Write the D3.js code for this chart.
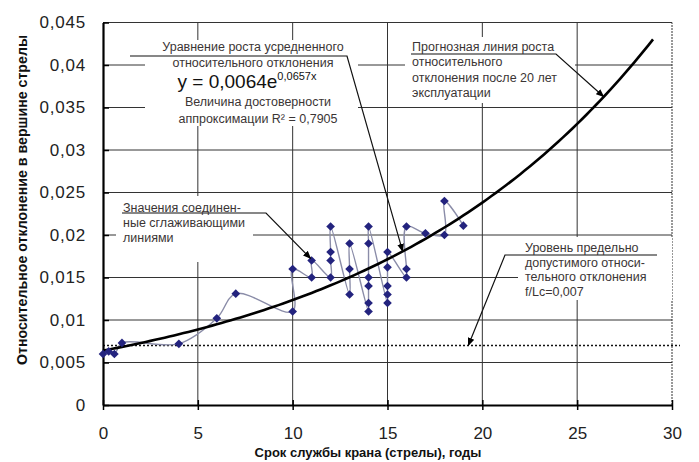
<!DOCTYPE html>
<html>
<head>
<meta charset="utf-8">
<script src="https://cdn.jsdelivr.net/npm/d3@7"></script>
<style>
  html, body { margin: 0; padding: 0; background: #fff; }
  svg { display: block; }
  text { font-family: "Liberation Sans", Arial, sans-serif; }
</style>
</head>
<body>
<div id="chart"></div>
<script>
// ---- data ----
const xTicks = [0, 5, 10, 15, 20, 25, 30];
const yTicks = [0, 0.005, 0.01, 0.015, 0.02, 0.025, 0.03, 0.035, 0.04, 0.045];
const serviceYears = [0, 0.3, 0.6, 1, 4, 6, 7, 10, 10, 11, 11, 12, 12, 12, 12, 13, 13, 13,
  14, 14, 14, 14, 14, 14, 15, 15, 15, 15, 15, 16, 16, 16, 17, 18, 18, 19];
const deviation = [0.006, 0.0063, 0.006, 0.0073, 0.0072, 0.0102, 0.0131, 0.011, 0.016, 0.015, 0.017,
  0.015, 0.017, 0.018, 0.021, 0.013, 0.016, 0.019,
  0.011, 0.012, 0.014, 0.015, 0.019, 0.021,
  0.012, 0.013, 0.014, 0.0162, 0.018,
  0.015, 0.016, 0.021, 0.0202, 0.020, 0.024, 0.0211];
const trendA = 0.0064, trendB = 0.0657, trendEnd = 29.05;
const limitLevel = 0.007;

const xLabel = "Срок службы крана (стрелы), годы";
const yLabel = "Относительное отклонение в вершине стрелы";

// ---- layout ----
const W = 699, H = 462;
const m = { left: 103, right: 27, top: 22.5, bottom: 57 };
const svg = d3.select("#chart").append("svg").attr("width", W).attr("height", H);

const x = d3.scaleLinear().domain([0, 30]).range([m.left, W - m.right]);
const y = d3.scaleLinear().domain([0, 0.045]).range([H - m.bottom, m.top]);
const fmt = v => d3.format("~g")(v).replace(".", ",");

// grid
const grid = svg.append("g");
grid.selectAll(".hg").data(yTicks.slice(1)).join("line")
  .attr("x1", x(0)).attr("x2", x(30)).attr("y1", d => y(d)).attr("y2", d => y(d))
  .attr("stroke", "#333").attr("stroke-width", 1);
grid.selectAll(".vg").data(xTicks.slice(1)).join("line")
  .attr("y1", y(0)).attr("y2", y(0.045)).attr("x1", d => x(d)).attr("x2", d => x(d))
  .attr("stroke", "#333").attr("stroke-width", 1)
  .attr("stroke-dasharray", d => d === 30 ? "2,1" : null);

// limit level dotted line
svg.append("line")
  .attr("x1", x(0)).attr("x2", x(30) + 8)
  .attr("y1", y(limitLevel)).attr("y2", y(limitLevel))
  .attr("stroke", "#111").attr("stroke-width", 1.4).attr("stroke-dasharray", "2,2");

// annotation boxes (white, covering grid)
const boxes = [
  [145, 40, 213, 86],
  [405, 37, 170, 66],
  [116, 196, 137, 66],
  [518, 237, 154, 63]
];
svg.selectAll(".box").data(boxes).join("rect")
  .attr("x", d => d[0]).attr("y", d => d[1]).attr("width", d => d[2]).attr("height", d => d[3])
  .attr("fill", "#fff");

// axes
const xAxis = svg.append("g").attr("transform", `translate(0,${y(0)})`)
  .call(d3.axisBottom(x).tickValues(xTicks).tickFormat(fmt).tickSizeInner(5).tickSizeOuter(0).tickPadding(17));
xAxis.select(".domain").attr("stroke", "#000").attr("stroke-width", 2);
xAxis.selectAll(".tick line").attr("y1", -5).attr("stroke", "#000").attr("stroke-width", 1.5);
xAxis.selectAll("text").attr("font-size", 17).attr("fill", "#222").attr("font-family", "Liberation Sans, Arial");

const yAxis = svg.append("g").attr("transform", `translate(${x(0)},0)`)
  .call(d3.axisLeft(y).tickValues(yTicks).tickFormat(fmt).tickSizeInner(6).tickSizeOuter(0).tickPadding(11));
yAxis.select(".domain").attr("stroke", "#000").attr("stroke-width", 2.2);
yAxis.selectAll(".tick line").attr("x2", 6).attr("stroke", "#000").attr("stroke-width", 1.5);
yAxis.selectAll("text").attr("font-size", 17).attr("fill", "#222")
  .attr("letter-spacing", 0.8).attr("font-family", "Liberation Sans, Arial");

// axis titles
svg.append("text").attr("x", 368).attr("y", 457).attr("text-anchor", "middle")
  .attr("font-size", 13).attr("font-weight", "bold").attr("fill", "#111").text(xLabel);
svg.append("text").attr("transform", `translate(27,${200}) rotate(-90)`).attr("text-anchor", "middle")
  .attr("font-size", 14.2).attr("font-weight", "bold").attr("fill", "#111").text(yLabel);

// data line (smoothed)
const pts = serviceYears.map((v, i) => [v, deviation[i]]);
svg.append("path").datum(pts)
  .attr("d", d3.line().x(d => x(d[0])).y(d => y(d[1])).curve(d3.curveCatmullRom.alpha(0.5)))
  .attr("fill", "none").attr("stroke", "#8a8ca8").attr("stroke-width", 1.4);

// trend curve
const trend = d3.range(0, trendEnd + 0.001, 0.25).map(t => [t, trendA * Math.exp(trendB * t)]);
svg.append("path").datum(trend)
  .attr("d", d3.line().x(d => x(d[0])).y(d => y(d[1])))
  .attr("fill", "none").attr("stroke", "#000").attr("stroke-width", 2.6);

// markers
svg.selectAll(".pt").data(pts).join("path")
  .attr("transform", d => `translate(${x(d[0])},${y(d[1])})`)
  .attr("d", d3.symbol(d3.symbolDiamond2, 48))
  .attr("fill", "#23237e");

// annotation leaders with arrows
svg.append("defs").append("marker").attr("id", "arr")
  .attr("viewBox", "0 0 10 10").attr("refX", 9).attr("refY", 5)
  .attr("markerWidth", 7).attr("markerHeight", 7).attr("orient", "auto")
  .append("path").attr("d", "M0,1 L10,5 L0,9 Z").attr("fill", "#000");

const f = t => trendA * Math.exp(trendB * t);
const leaders = [
  [[130, 56], [347, 56], [x(15.8), y(f(15.8))]],
  [[411, 54], [556, 54], [x(26.4), y(f(26.4))]],
  [[122, 213], [266, 213], [x(11) - 1, y(0.017) - 2]],
  [[657, 255], [505, 255], [x(19.26), y(limitLevel)]]
];
svg.selectAll(".lead").data(leaders).join("path")
  .attr("d", d => d3.line()(d))
  .attr("fill", "none").attr("stroke", "#111").attr("stroke-width", 1.2)
  .attr("marker-end", "url(#arr)");

// annotation texts
const tcol = "#3b3535";
function lines(x0, y0, dy, arr, anchor, size) {
  arr.forEach((s, i) => {
    svg.append("text").attr("x", x0).attr("y", y0 + i * dy).attr("text-anchor", anchor)
      .attr("font-size", size).attr("fill", tcol).text(s);
  });
}
lines(253, 51, 16, ["Уравнение роста усредненного", "относительного отклонения"], "middle", 12.5);
const eq = svg.append("text").attr("x", 247).attr("y", 88).attr("text-anchor", "middle")
  .attr("font-size", 19).attr("fill", "#111");
eq.append("tspan").text("y = 0,0064e");
eq.append("tspan").attr("font-size", 11).attr("dy", -8).text("0,0657x");
lines(258, 106, 17, ["Величина достоверности", "аппроксимации R² = 0,7905"], "middle", 12.5);

lines(412, 51, 15.3, ["Прогнозная линия роста", "относительного", "отклонения после 20 лет", "эксплуатации"], "start", 12.5);
lines(123, 212, 15, ["Значения соединен-", "ные сглаживающими", "линиями"], "start", 12.5);
lines(525, 252, 14.5, ["Уровень предельно", "допустимого относи-", "тельного отклонения", "f/Lc=0,007"], "start", 12.5);
</script>
</body>
</html>
